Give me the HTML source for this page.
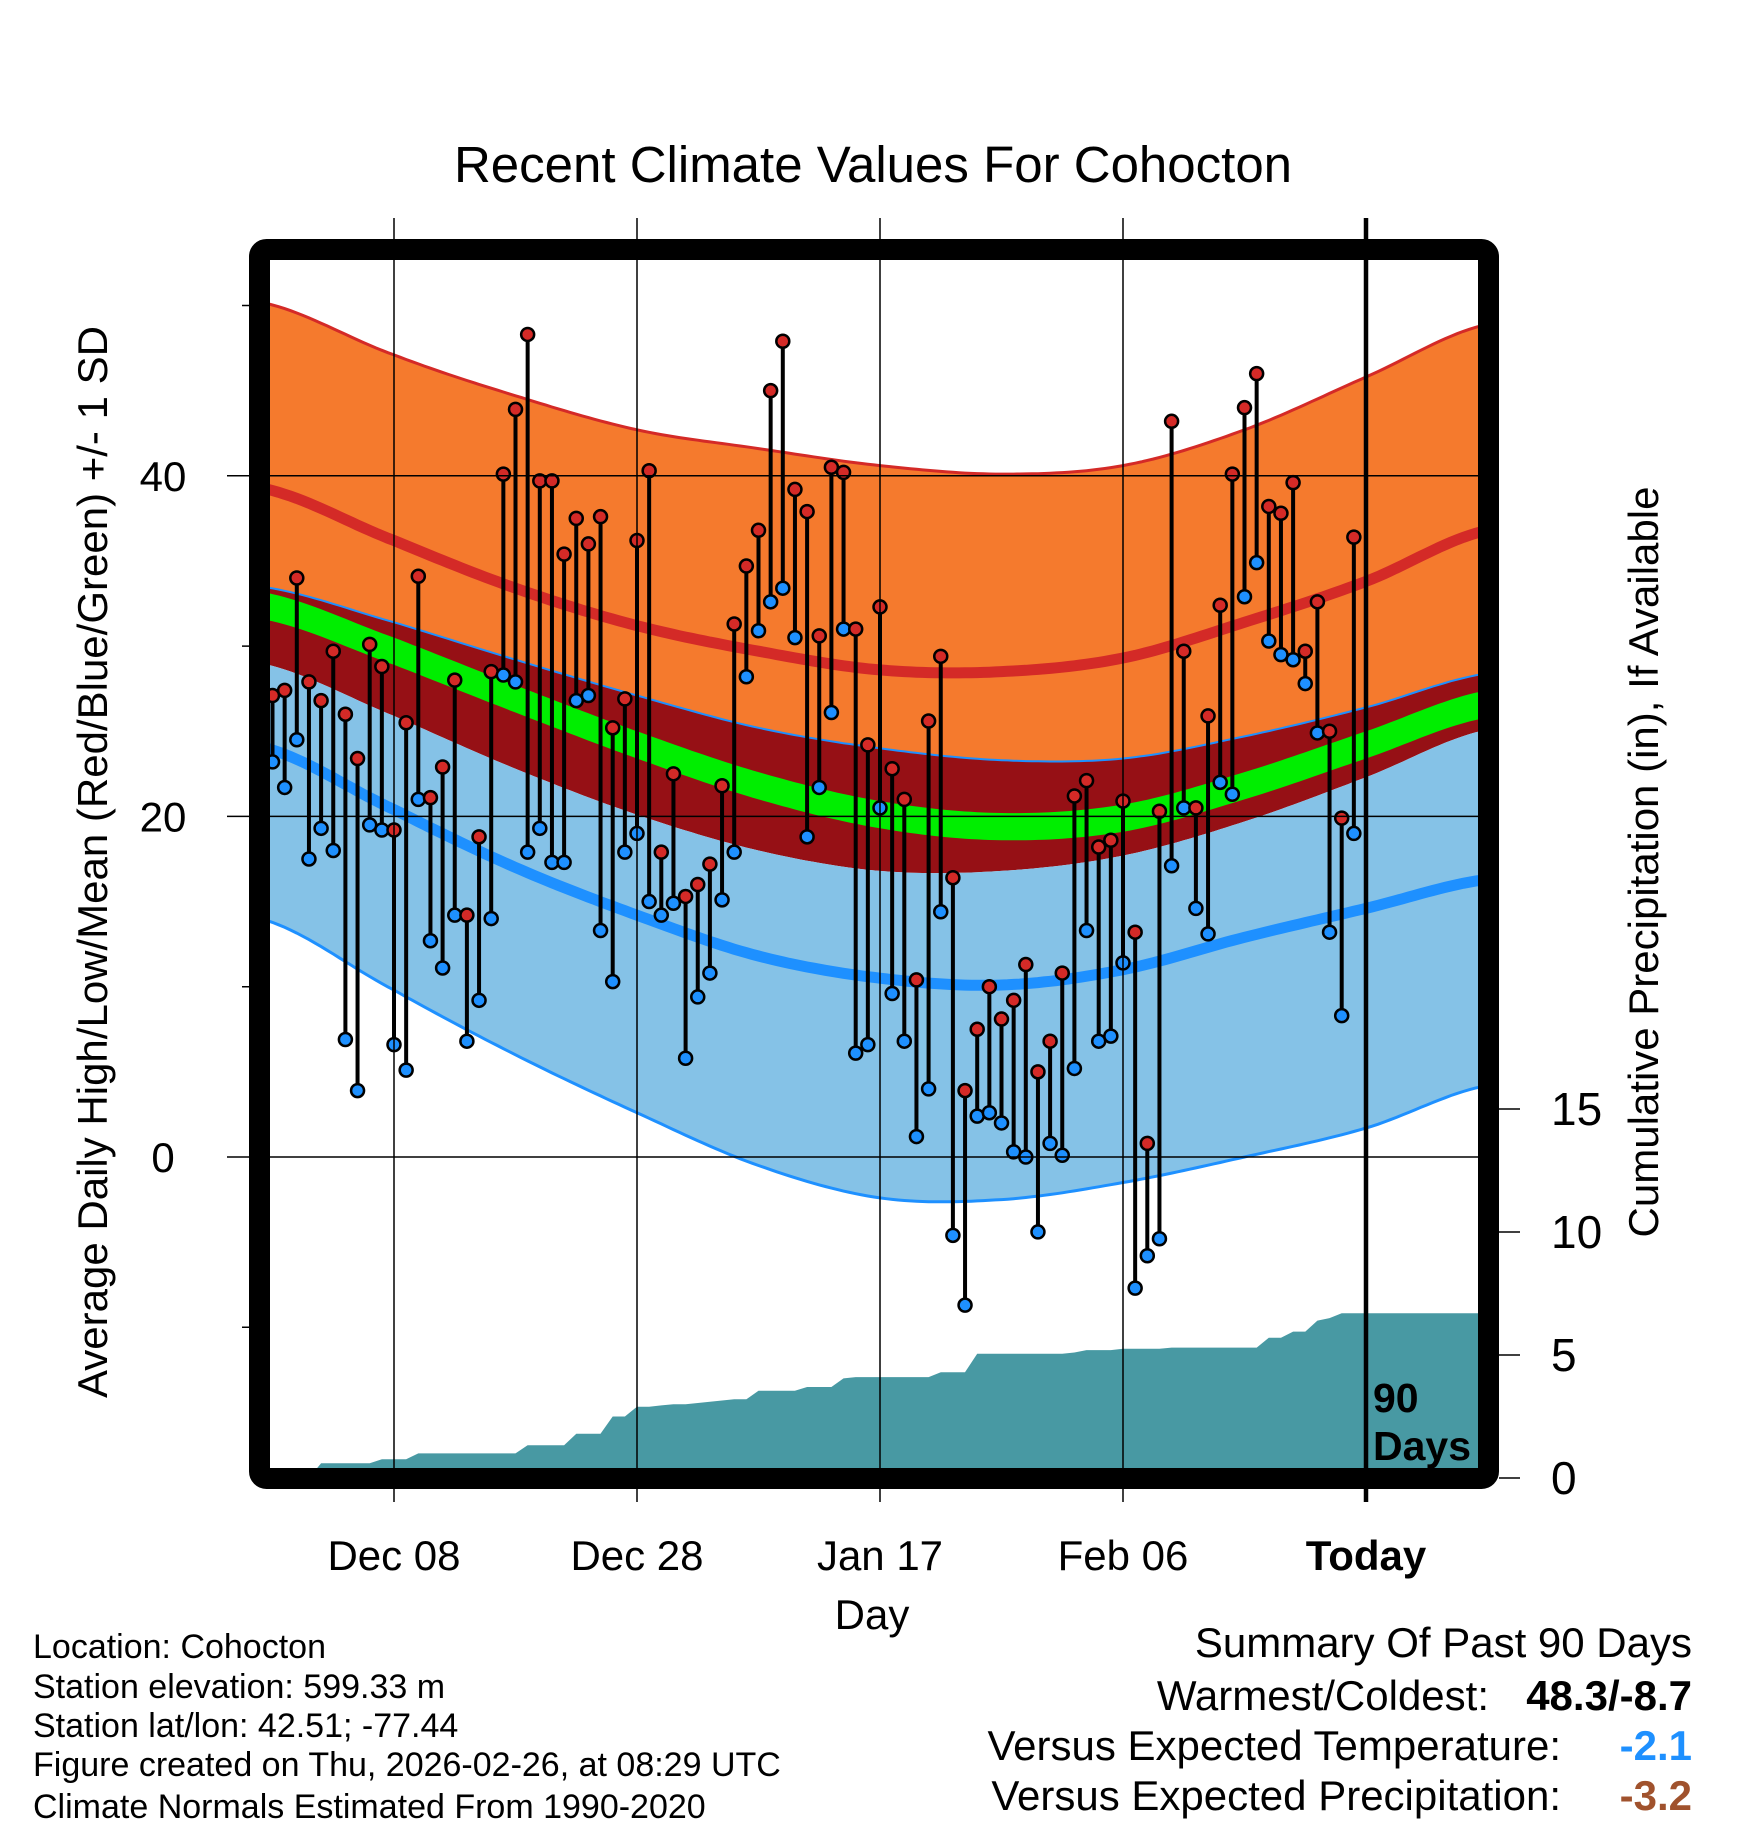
<!DOCTYPE html>
<html><head><meta charset="utf-8"><style>
body{margin:0;background:#fff;}
svg text{font-family:"Liberation Sans",sans-serif;}
</style></head><body>
<svg id="chart" width="1748" height="1828" viewBox="0 0 1748 1828" xmlns="http://www.w3.org/2000/svg">
<defs><clipPath id="plotclip"><rect x="270" y="260" width="1208" height="1208"/></clipPath></defs>
<text x="873" y="182" font-size="51" text-anchor="middle">Recent Climate Values For Cohocton</text>
<g id="plot" clip-path="url(#plotclip)"></g>
<g id="over"></g>
<rect x="259.5" y="249.5" width="1229" height="1229" rx="7" fill="none" stroke="#000" stroke-width="21"/>
<text transform="translate(107,862) rotate(-90)" font-size="42" text-anchor="middle">Average Daily High/Low/Mean (Red/Blue/Green) +/- 1 SD</text>
<text transform="translate(1658,862) rotate(-90)" font-size="42" text-anchor="middle">Cumulative Precipitation (in), If Available</text>
<text x="872" y="1629" font-size="42" text-anchor="middle">Day</text>
<g font-size="34">
<text x="33" y="1658">Location: Cohocton</text>
<text x="33" y="1698">Station elevation: 599.33 m</text>
<text x="33" y="1737">Station lat/lon: 42.51; -77.44</text>
<text x="33" y="1776">Figure created on Thu, 2026-02-26, at 08:29 UTC</text>
<text x="33" y="1818">Climate Normals Estimated From 1990-2020</text>
</g>
<g font-size="42">
<text x="1692" y="1657" text-anchor="end">Summary Of Past 90 Days</text>
<text x="1489" y="1710" text-anchor="end">Warmest/Coldest:</text>
<text x="1692" y="1710" text-anchor="end" font-weight="bold">48.3/-8.7</text>
<text x="1561" y="1760" text-anchor="end">Versus Expected Temperature:</text>
<text x="1692" y="1760" text-anchor="end" font-weight="bold" fill="#1e90ff">-2.1</text>
<text x="1561" y="1810" text-anchor="end">Versus Expected Precipitation:</text>
<text x="1692" y="1810" text-anchor="end" font-weight="bold" fill="#a0522d">-3.2</text>
</g>
</svg>
<script>
const highs=[27.1,27.4,34.0,27.9,26.8,29.7,26.0,23.4,30.1,28.8,19.2,25.5,34.1,21.1,22.9,28.0,14.2,18.8,28.5,40.1,43.9,48.3,39.7,39.7,35.4,37.5,36.0,37.6,25.2,26.9,36.2,40.3,17.9,22.5,15.3,16.0,17.2,21.8,31.3,34.7,36.8,45.0,47.9,39.2,37.9,30.6,40.5,40.2,31.0,24.2,32.3,22.8,21.0,10.4,25.6,29.4,16.4,3.9,7.5,10.0,8.1,9.2,11.3,5.0,6.8,10.8,21.2,22.1,18.2,18.6,20.9,13.2,0.8,20.3,43.2,29.7,20.5,25.9,32.4,40.1,44.0,46.0,38.2,37.8,39.6,29.7,32.6,25.0,19.9,36.4];
const lows=[23.2,21.7,24.5,17.5,19.3,18.0,6.9,3.9,19.5,19.2,6.6,5.1,21.0,12.7,11.1,14.2,6.8,9.2,14.0,28.3,27.9,17.9,19.3,17.3,17.3,26.8,27.1,13.3,10.3,17.9,19.0,15.0,14.2,14.9,5.8,9.4,10.8,15.1,17.9,28.2,30.9,32.6,33.4,30.5,18.8,21.7,26.1,31.0,6.1,6.6,20.5,9.6,6.8,1.2,4.0,14.4,-4.6,-8.7,2.4,2.6,2.0,0.3,0.0,-4.4,0.8,0.1,5.2,13.3,6.8,7.1,11.4,-7.7,-5.8,-4.8,17.1,20.5,14.6,13.1,22.0,21.3,32.9,34.9,30.3,29.5,29.2,27.8,24.9,13.2,8.3,19.0];
const precip=[0,0,0,0,0.6,0.6,0.6,0.6,0.6,0.76,0.76,0.76,1.0,1.0,1.0,1.0,1.0,1.0,1.0,1.0,1.0,1.33,1.33,1.33,1.33,1.8,1.8,1.8,2.5,2.5,2.9,2.9,2.95,3.0,3.0,3.05,3.1,3.15,3.2,3.2,3.55,3.55,3.55,3.55,3.7,3.7,3.7,4.05,4.1,4.1,4.1,4.1,4.1,4.1,4.1,4.3,4.3,4.3,5.05,5.05,5.05,5.05,5.05,5.05,5.05,5.05,5.1,5.2,5.2,5.2,5.25,5.25,5.25,5.25,5.3,5.3,5.3,5.3,5.3,5.3,5.3,5.3,5.7,5.7,5.95,5.95,6.4,6.5,6.7,6.7];
const normDays=[-91,-80,-70,-60,-50,-40,-30,-20,-10,0,10];
const hiPlus=[50.2,47.1,44.7,42.7,41.6,40.6,40.1,40.6,42.7,45.8,48.9];
const hiMean=[39.3,36.2,33.4,31.2,29.7,28.6,28.5,29.3,31.4,33.8,36.8];
const hiMinus=[33.5,31.4,29.2,27.1,25.2,24.0,23.3,23.4,24.7,26.4,28.4];
const avgMean=[32.4,29.7,26.9,24.2,21.8,20.1,19.4,19.9,21.8,24.2,26.6];
const loPlus=[29.0,25.9,22.8,20.1,18.0,16.8,16.8,17.7,19.7,22.3,25.1];
const loMean=[24.1,20.4,17.0,14.2,11.8,10.5,10.1,11.0,12.9,14.6,16.3];
const loMinus=[14.0,9.8,6.0,2.6,-0.5,-2.4,-2.5,-1.5,0.0,1.7,4.2];
const xTickDays=[-80,-60,-40,-20,0];
const xTickLabels=["Dec 08","Dec 28","Jan 17","Feb 06","Today"];
const yTicks=[0,20,40];
const yMinor=[-10,10,30,50];
const pTicks=[0,5,10,15];

const NS="http://www.w3.org/2000/svg";
const X=d=>1366+12.15*d;
const Y=t=>1157-17.03*t;
const YP=p=>1478-24.6*p;
function mk(tag,attrs,parent){const e=document.createElementNS(NS,tag);for(const k in attrs)e.setAttribute(k,attrs[k]);parent.appendChild(e);return e;}
function interp(arr,d){
  let i=0;while(i<normDays.length-2&&d>normDays[i+1])i++;
  const t=(d-normDays[i])/(normDays[i+1]-normDays[i]);
  const p0=arr[Math.max(i-1,0)],p1=arr[i],p2=arr[i+1],p3=arr[Math.min(i+2,arr.length-1)];
  const t2=t*t,t3=t2*t;
  return 0.5*(2*p1+(-p0+p2)*t+(2*p0-5*p1+4*p2-p3)*t2+(-p0+3*p1-3*p2+p3)*t3);
}
function curvePts(arr){const pts=[];for(let d=-92;d<=11;d+=0.5)pts.push([X(d),Y(interp(arr,d))]);return pts;}
function ptsStr(p){return p.map(q=>q[0].toFixed(1)+","+q[1].toFixed(1)).join(" ");}
function band(a,b,fill,name){
  const p=curvePts(a).concat(curvePts(b).reverse());
  const e=mk("polygon",{points:ptsStr(p),fill:fill},plot);
  
  
}
function line(a,color,w,name){
  const e=mk("polyline",{points:ptsStr(curvePts(a)),fill:"none",stroke:color,"stroke-width":w},plot);
  
  
}
const plot=document.getElementById("plot");
const over=document.getElementById("over");
const svg=document.getElementById("chart");

band(hiPlus,hiMinus,"#f57a2d","high-sd-band");
band(hiMinus,loPlus,"#961015","overlap-band");
band(loPlus,loMinus,"#85c2e7","low-sd-band");
{const up=avgMean.map(v=>v+0.8),dn=avgMean.map(v=>v-0.8);band(up,dn,"#00ee00","mean-band");}
line(hiPlus,"#d42a27",3,"high-plus-sd-line");
line(hiMean,"#d42a27",11,"mean-high-line");
line(hiMinus,"#1e90ff",2,"high-minus-sd-line");
line(loMean,"#1e90ff",11,"mean-low-line");
line(loMinus,"#1e90ff",3,"low-minus-sd-line");

for(const t of yTicks){const e=mk("line",{x1:227,x2:1478,y1:Y(t),y2:Y(t),stroke:"#000","stroke-width":1.5},svg);


svg.insertBefore(e,over);}
{const pts=[[X(-92),YP(0)]];precip.forEach((p,i)=>{pts.push([X(-90+i),YP(p)]);});pts.push([X(12),YP(precip[precip.length-1])]);pts.push([X(12),YP(0)]);
const e=mk("polygon",{points:ptsStr(pts),fill:"#4899a3"},plot);

}
xTickDays.forEach((d,i)=>{
  const isToday=d===0;
  const g=mk("line",{x1:X(d),x2:X(d),y1:218,y2:1502,stroke:"#000","stroke-width":isToday?4.5:1.5},over);
  
  
  const t=mk("text",{x:X(d),y:1570,"font-size":42,"text-anchor":"middle"},over);
  if(isToday)t.setAttribute("font-weight","bold");
  t.textContent=xTickLabels[i];
  
  
});
highs.forEach((h,i)=>{
  const x=X(-90+i);
  const b=mk("line",{x1:x,x2:x,y1:Y(h),y2:Y(lows[i]),stroke:"#000","stroke-width":4},plot);
  
  
});
highs.forEach((h,i)=>{
  const x=X(-90+i);
  const c1=mk("circle",{cx:x,cy:Y(h),r:6.5,fill:"#d42a27",stroke:"#000","stroke-width":2.5},plot);
  
  
  const c2=mk("circle",{cx:x,cy:Y(lows[i]),r:6.5,fill:"#1e90ff",stroke:"#000","stroke-width":2.5},plot);
  
  
});
yTicks.forEach(t=>{
  const l=mk("text",{x:163,y:Y(t)+15,"font-size":42,"text-anchor":"middle"},over);
  l.textContent=t;
  
  
});
yMinor.forEach(t=>{
  const l=mk("line",{x1:242,x2:260,y1:Y(t),y2:Y(t),stroke:"#000","stroke-width":1.5},over);
  
  
});
pTicks.forEach(p=>{
  const l=mk("line",{x1:1499,x2:1520,y1:YP(p),y2:YP(p),stroke:"#000","stroke-width":1.5},over);
  
  
  const t=mk("text",{x:1551,y:YP(p)+16,"font-size":46},over);
  t.textContent=p;
  
  
});
{const t=mk("text",{x:1373,y:1412,"font-size":41,"font-weight":"bold"},over);t.textContent="90";


const t2=mk("text",{x:1373,y:1460,"font-size":41,"font-weight":"bold"},over);t2.textContent="Days";

}
</script>
</body></html>
